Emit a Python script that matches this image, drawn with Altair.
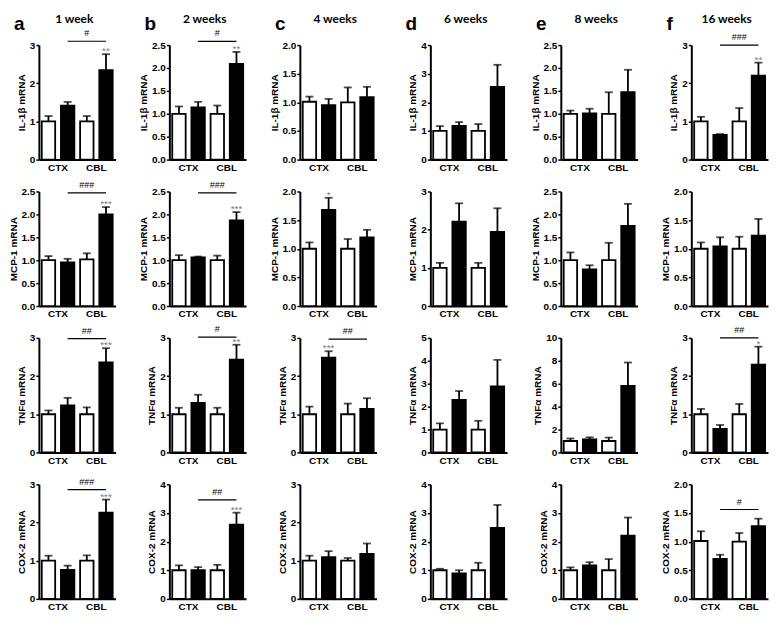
import altair as alt
import pandas as pd

weeks = ["1 week", "2 weeks", "4 weeks", "6 weeks", "8 weeks", "16 weeks"]
letters = ["a", "b", "c", "d", "e", "f"]
bar_ids = ["CTX-c", "CTX-t", "CBL-c", "CBL-t"]
bar_groups = ["Control", "Treated", "Control", "Treated"]
gene_titles = ["IL-1β mRNA", "MCP-1  mRNA", "TNFα mRNA", "COX-2 mRNA"]

il1b_mean = [
    [1.00, 1.41, 1.00, 2.34],
    [1.00, 1.14, 1.00, 2.09],
    [1.01, 0.95, 1.00, 1.09],
    [1.00, 1.18, 1.00, 2.54],
    [1.00, 1.01, 1.00, 1.47],
    [1.00, 0.65, 1.00, 2.20],
]
il1b_sem = [
    [0.14, 0.10, 0.14, 0.42],
    [0.16, 0.12, 0.18, 0.26],
    [0.09, 0.11, 0.26, 0.18],
    [0.17, 0.13, 0.24, 0.77],
    [0.07, 0.10, 0.47, 0.49],
    [0.12, 0.02, 0.35, 0.34],
]
mcp1_mean = [
    [1.00, 0.95, 1.02, 2.00],
    [1.00, 1.06, 1.00, 1.87],
    [1.00, 1.68, 1.00, 1.20],
    [1.00, 2.21, 1.00, 1.94],
    [1.00, 0.80, 1.00, 1.75],
    [1.00, 1.04, 1.00, 1.23],
]
mcp1_sem = [
    [0.09, 0.08, 0.13, 0.16],
    [0.11, 0.02, 0.10, 0.18],
    [0.11, 0.21, 0.17, 0.13],
    [0.13, 0.48, 0.13, 0.62],
    [0.17, 0.09, 0.38, 0.48],
    [0.11, 0.16, 0.21, 0.29],
]
tnfa_mean = [
    [1.00, 1.23, 1.00, 2.36],
    [1.00, 1.30, 1.00, 2.43],
    [1.00, 2.48, 1.00, 1.14],
    [1.00, 2.29, 1.00, 2.88],
    [1.00, 1.15, 1.00, 5.80],
    [1.00, 0.62, 1.00, 2.30],
]
tnfa_sem = [
    [0.10, 0.20, 0.18, 0.37],
    [0.17, 0.21, 0.17, 0.39],
    [0.20, 0.17, 0.28, 0.28],
    [0.27, 0.39, 0.38, 1.16],
    [0.22, 0.17, 0.30, 2.05],
    [0.14, 0.10, 0.27, 0.47],
]
cox2_mean = [
    [1.00, 0.76, 1.00, 2.26],
    [1.00, 1.00, 1.00, 2.59],
    [1.00, 1.09, 1.00, 1.18],
    [1.00, 0.89, 1.00, 2.48],
    [1.00, 1.17, 1.00, 2.21],
    [1.01, 0.70, 1.00, 1.27],
]
cox2_sem = [
    [0.13, 0.11, 0.14, 0.34],
    [0.17, 0.11, 0.19, 0.42],
    [0.13, 0.16, 0.07, 0.27],
    [0.05, 0.11, 0.26, 0.80],
    [0.10, 0.11, 0.39, 0.63],
    [0.17, 0.07, 0.15, 0.13],
]

y_max = [
    [3, 2.5, 2.0, 4, 2.5, 3],
    [2.5, 2.5, 2.0, 3, 2.5, 2.0],
    [3, 3, 3, 5, 10, 3],
    [3, 4, 3, 4, 4, 2.0],
]
y_step = [
    [1, 0.5, 0.5, 1, 0.5, 1],
    [0.5, 0.5, 0.5, 1, 0.5, 0.5],
    [1, 1, 1, 1, 2, 1],
    [1, 1, 1, 1, 1, 0.5],
]

# (row, col) -> (bar, stars)
stars = {
    (0, 0): ("CBL-t", "**"), (0, 1): ("CBL-t", "**"), (0, 5): ("CBL-t", "**"),
    (1, 0): ("CBL-t", "***"), (1, 1): ("CBL-t", "***"), (1, 2): ("CTX-t", "*"),
    (2, 0): ("CBL-t", "***"), (2, 1): ("CBL-t", "**"), (2, 2): ("CTX-t", "***"),
    (2, 5): ("CBL-t", "*"),
    (3, 0): ("CBL-t", "***"), (3, 1): ("CBL-t", "***"),
}
# (row, col) -> (line level, hashes)
sig_lines = {
    (0, 0): (3.1, "#"), (0, 1): (2.58, "#"), (0, 5): (3.0, "###"),
    (1, 0): (2.47, "###"), (1, 1): (2.47, "###"),
    (2, 0): (2.98, "##"), (2, 1): (3.02, "#"), (2, 2): (2.97, "##"), (2, 5): (3.0, "##"),
    (3, 0): (2.86, "###"), (3, 1): (3.46, "##"), (3, 5): (1.56, "#"),
}

gene_means = [il1b_mean, mcp1_mean, tnfa_mean, cox2_mean]
gene_sems = [il1b_sem, mcp1_sem, tnfa_sem, cox2_sem]

W, H = 77, 115
AX = "Liberation Sans"


def panel(r, c):
    means = gene_means[r][c]
    sems = gene_sems[r][c]
    df = pd.DataFrame({
        "bar": bar_ids,
        "grp": bar_groups,
        "mean": means,
        "top": [m + s for m, s in zip(means, sems)],
    })
    ymax = y_max[r][c]
    step = y_step[r][c]
    n = int(round(ymax / step))
    ticks = [round(i * step, 2) for i in range(n + 1)]
    fmt = ".1f" if step < 1 else "d"

    xscale = alt.Scale(domain=bar_ids, paddingInner=0.3, paddingOuter=0.15)
    xaxis = alt.Axis(
        title=None, ticks=False, labelAngle=0, labelOffset=9.5, labelPadding=3,
        labelExpr="datum.value == 'CTX-c' ? 'CTX' : (datum.value == 'CBL-c' ? 'CBL' : '')",
    )
    yscale = alt.Scale(domain=[0, ymax], nice=False, zero=True)
    yaxis = alt.Axis(title=gene_titles[r], values=ticks, format=fmt)

    def X(f):
        return alt.X(f"{f}:N", scale=xscale, axis=xaxis, sort=bar_ids)

    def Y(f):
        return alt.Y(f"{f}:Q", scale=yscale, axis=yaxis)

    err = alt.Chart(df).mark_rule(color="black", strokeWidth=1.8).encode(
        x=X("bar"), y=Y("mean"), y2="top:Q")
    cap = alt.Chart(df).mark_tick(color="black", size=8, thickness=1.8).encode(
        x=X("bar"), y=Y("top"))
    bars = alt.Chart(df).mark_bar(stroke="black", strokeWidth=1.8).encode(
        x=X("bar"), y=Y("mean"),
        fill=alt.Fill("grp:N", scale=alt.Scale(domain=["Control", "Treated"],
                                               range=["white", "black"]), legend=None),
    )
    layers = [err, cap, bars]

    if (r, c) in stars:
        b, s = stars[(r, c)]
        sdf = df[df["bar"] == b].assign(label=s)
        layers.append(
            alt.Chart(sdf).mark_text(color="#7a7a7a", fontSize=10, baseline="bottom",
                                     dy=2, font=AX).encode(
                x=X("bar"), y=Y("top"), text="label:N"))
    if (r, c) in sig_lines:
        lv, h = sig_lines[(r, c)]
        ldf = pd.DataFrame({"x1": ["CTX-t"], "x2": ["CBL-t"], "xm": ["CBL-c"],
                            "yl": [lv], "label": [h]})
        layers.append(alt.Chart(ldf).mark_rule(color="black", strokeWidth=1.2).encode(
            x=X("x1"), x2="x2:N", y=Y("yl")))
        layers.append(alt.Chart(ldf).mark_text(color="black", fontSize=9, baseline="bottom",
                                               dy=-3, font=AX).encode(
            x=X("xm"), y=Y("yl"), text="label:N"))
    if r == 0:
        tdf = pd.DataFrame({"week": [weeks[c]], "letter": [letters[c]]})
        layers.append(alt.Chart(tdf).mark_text(font="Lato", fontWeight="bold", fontSize=12,
                                               align="center", baseline="alphabetic",
                                               color="black").encode(
            text="week:N", x=alt.value(W / 2 - 3), y=alt.value(-22)))
        layers.append(alt.Chart(tdf).mark_text(font=AX, fontWeight="bold", fontSize=19,
                                               align="left", baseline="alphabetic",
                                               color="black").encode(
            text="letter:N", x=alt.value(-25), y=alt.value(-15)))

    return alt.layer(*layers).properties(width=W, height=H)


panels = [panel(r, c) for r in range(4) for c in range(6)]

chart = alt.concat(
    *panels, columns=6,
    spacing=alt.RowColnumber(row=32, column=54),
    bounds="flush",
).properties(
    padding={"left": 0, "top": 4, "right": 2, "bottom": 2}
).configure_view(stroke=None).configure_axis(
    grid=False,
    domainColor="black", domainWidth=2,
    tickColor="black", tickWidth=1.5, tickSize=3,
    labelFont=AX, labelFontWeight="bold", labelFontSize=10, labelColor="black",
    labelPadding=1,
    titleFont=AX, titleFontWeight="bold", titleFontSize=10, titleColor="black",
    titlePadding=3,
).configure_axisX(labelFontSize=10, labelPadding=3)

chart.save("out.html", embed_options={"renderer": "svg", "actions": False})
